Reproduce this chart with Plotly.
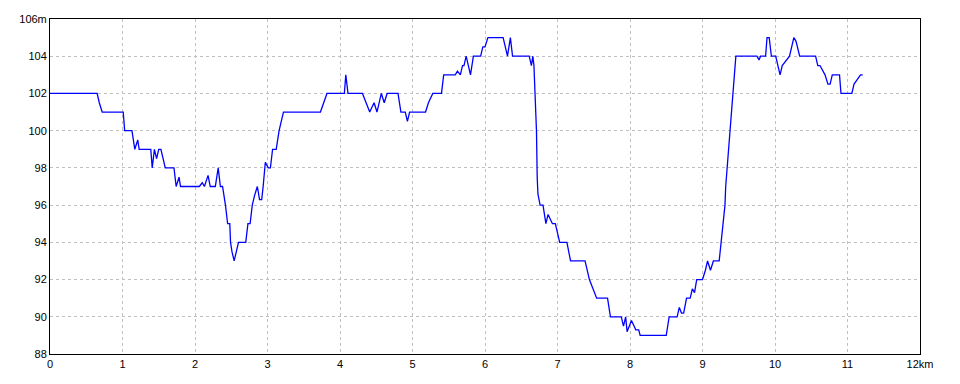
import plotly.graph_objects as go

# distance (km) and elevation (m)
dist_km = [
    0.00, 0.65, 0.68, 0.72, 1.01, 1.03, 1.13, 1.17, 1.21, 1.23, 1.39, 1.41, 1.44, 1.47,
    1.50, 1.53, 1.59, 1.71, 1.74, 1.78, 1.80, 2.06, 2.10, 2.13, 2.18, 2.21, 2.28, 2.32,
    2.35, 2.38, 2.42, 2.45, 2.48, 2.49, 2.51, 2.54, 2.57, 2.60, 2.70, 2.73, 2.76, 2.79,
    2.82, 2.86, 2.89, 2.92, 2.94, 2.97, 3.01, 3.04, 3.07, 3.12, 3.16, 3.22, 3.73, 3.82,
    4.06, 4.08, 4.11, 4.31, 4.36, 4.41, 4.47, 4.51, 4.57, 4.61, 4.65, 4.80, 4.84, 4.90,
    4.93, 4.96, 5.18, 5.22, 5.28, 5.40, 5.43, 5.59, 5.62, 5.66, 5.69, 5.71, 5.74, 5.80,
    5.84, 5.94, 5.97, 6.00, 6.04, 6.25, 6.31, 6.35, 6.38, 6.61, 6.64, 6.66, 6.675, 6.69,
    6.71, 6.72, 6.73, 6.76, 6.80, 6.84, 6.87, 6.93, 6.97, 7.03, 7.13, 7.18, 7.38, 7.44,
    7.54, 7.69, 7.73, 7.88, 7.91, 7.94, 7.96, 8.02, 8.08, 8.12, 8.14, 8.50, 8.54, 8.65,
    8.68, 8.71, 8.74, 8.78, 8.83, 8.86, 8.89, 8.92, 9.00, 9.04, 9.07, 9.11, 9.15, 9.23,
    9.26, 9.28, 9.31, 9.32, 9.34, 9.355, 9.37, 9.39, 9.41, 9.44, 9.46, 9.75, 9.78, 9.80,
    9.87, 9.89, 9.92, 9.95, 10.01, 10.04, 10.07, 10.10, 10.16, 10.20, 10.23, 10.26, 10.29,
    10.34, 10.56, 10.59, 10.62, 10.66, 10.69, 10.73, 10.76, 10.79, 10.89, 10.91, 11.06,
    11.09, 11.15, 11.18, 11.21,
]
elev_m = [
    102.0, 102.0, 101.5, 101.0, 101.0, 100.0, 100.0, 99.0, 99.5, 99.0, 99.0, 98.0, 99.0, 98.5,
    99.0, 99.0, 98.0, 98.0, 97.0, 97.5, 97.0, 97.0, 97.2, 97.0, 97.6, 97.0, 97.0, 98.0,
    97.0, 97.0, 96.0, 95.0, 95.0, 94.0, 93.5, 93.0, 93.5, 94.0, 94.0, 95.0, 95.0, 96.0,
    96.5, 97.0, 96.3, 96.3, 97.0, 98.3, 98.0, 98.0, 99.0, 99.0, 100.0, 101.0, 101.0, 102.0,
    102.0, 103.0, 102.0, 102.0, 101.5, 101.0, 101.5, 101.0, 102.0, 101.5, 102.0, 102.0, 101.0, 101.0,
    100.5, 101.0, 101.0, 101.5, 102.0, 102.0, 103.0, 103.0, 103.2, 103.0, 103.5, 103.5, 104.0, 103.0,
    104.0, 104.0, 104.5, 104.5, 105.0, 105.0, 104.0, 105.0, 104.0, 104.0, 103.5, 104.0, 103.5, 102.0,
    100.0, 97.5, 96.6, 96.0, 96.0, 95.0, 95.5, 95.0, 95.0, 94.0, 94.0, 93.0, 93.0, 92.0,
    91.0, 91.0, 90.0, 90.0, 89.5, 90.0, 89.2, 89.8, 89.3, 89.3, 89.0, 89.0, 90.0, 90.0,
    90.5, 90.2, 90.2, 91.0, 91.0, 91.5, 91.3, 92.0, 92.0, 92.5, 93.0, 92.5, 93.0, 93.0,
    94.0, 95.0, 96.0, 97.0, 98.0, 99.0, 100.0, 101.0, 102.0, 103.5, 104.0, 104.0, 103.8, 104.0,
    104.0, 105.0, 105.0, 104.0, 104.0, 103.5, 103.0, 103.5, 103.8, 104.0, 104.5, 105.0, 104.8,
    104.0, 104.0, 103.5, 103.5, 103.2, 103.0, 102.5, 102.5, 103.0, 103.0, 102.0, 102.0,
    102.5, 102.8, 103.0, 103.0,
]

x_ticks = list(range(0, 13))
x_tick_text = [str(v) for v in range(0, 12)] + ["12km"]
y_ticks = list(range(88, 107, 2))
y_tick_text = [str(v) for v in range(88, 106, 2)] + ["106m"]

fig = go.Figure()
fig.add_trace(go.Scatter(
    x=dist_km, y=elev_m, mode="lines",
    line=dict(color="#0000ff", width=1.3),
    hoverinfo="x+y", showlegend=False,
))

axis_common = dict(
    showgrid=True, gridcolor="#c0c0c0", gridwidth=1, griddash="3px,3px",
    showline=True, linecolor="#000000", linewidth=1, mirror=True,
    zeroline=False, ticks="", tickfont=dict(family="Liberation Sans, Arial, sans-serif",
                                             size=11, color="#000000"),
)

fig.update_xaxes(range=[0, 12], tickvals=x_ticks, ticktext=x_tick_text, **axis_common)
fig.update_yaxes(range=[88, 106], tickvals=y_ticks, ticktext=y_tick_text, **axis_common)

fig.update_layout(
    width=960, height=384,
    margin=dict(l=50, r=40, t=19, b=30, pad=0),
    paper_bgcolor="#ffffff", plot_bgcolor="#ffffff",
)

fig.write_html("out.html")
